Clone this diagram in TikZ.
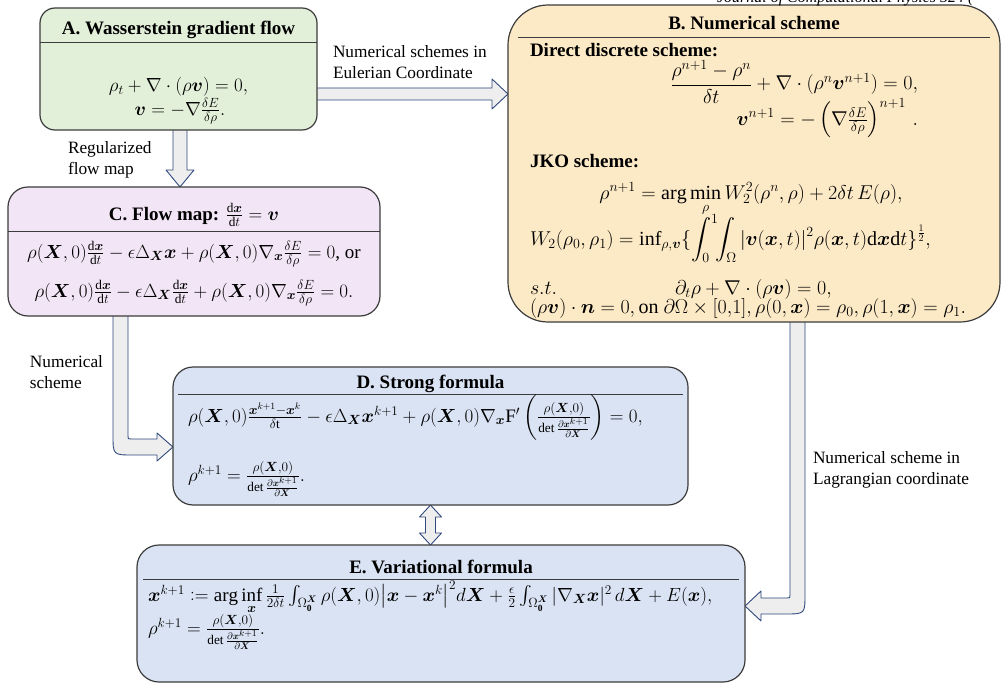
\RequirePackage{fix-cm}
\documentclass[tikz,border=0pt]{standalone}
\usepackage{amsmath,amssymb}
\usepackage{fontspec}
\setmainfont{Liberation Serif}[BoldFont={Liberation Serif Bold},ItalicFont={Liberation Serif Italic}]
\usetikzlibrary{calc,backgrounds}

\definecolor{boxline}{RGB}{60,60,60}
\definecolor{fillA}{RGB}{226,239,217}
\definecolor{fillB}{RGB}{252,233,198}
\definecolor{fillC}{RGB}{242,229,246}
\definecolor{fillDE}{RGB}{218,227,243}
\definecolor{arrfill}{RGB}{238,238,238}
\definecolor{arrline}{RGB}{47,72,125}

\newcommand{\bfX}{\boldsymbol{X}}
\newcommand{\bfx}{\boldsymbol{x}}
\newcommand{\bfv}{\boldsymbol{v}}
\newcommand{\bfn}{\boldsymbol{n}}

\begin{document}
\begin{tikzpicture}[x=1pt,y=-1pt,
  every node/.style={inner sep=0pt,outer sep=0pt},
  box/.style={draw=boxline,line width=1.2pt,rounded corners=#1},
  ttl/.style={anchor=base,font=\fontsize{19}{22}\selectfont\bfseries},
  eq/.style={anchor=base,font=\fontsize{19}{22}\selectfont},
  eqB/.style={anchor=base west,font=\fontsize{20}{23}\selectfont},
  lbl/.style={anchor=north west,align=left,font=\fontsize{17.3}{21.5}\selectfont},
  sep/.style={draw=boxline,line width=0.9pt},
  blk/.style={draw=arrline,fill=arrfill,line width=0.9pt,line join=round}]

\useasboundingbox (0,0) rectangle (1002,685);

% ---- the five boxes ----
\node[box=15pt,fill=fillA,minimum width=277pt,minimum height=122pt] (A) at (178.5,69) {};
\node[box=40pt,fill=fillB,minimum width=492pt,minimum height=317pt] (B) at (754,163.5) {};
\node[box=20pt,fill=fillC,minimum width=372pt,minimum height=129pt] (C) at (194,251.5) {};
\node[box=20pt,fill=fillDE,minimum width=515pt,minimum height=138pt] (D) at (430.5,436) {};
\node[box=22pt,fill=fillDE,minimum width=608pt,minimum height=137pt] (E) at (441,613.5) {};

% ---- A ----
\node[ttl] (Atitle) at (178.5,35) {A. Wasserstein gradient flow};
\draw[sep] (40,42) -- (317,42);
\node[eq] (Aeq1) at (178.5,92) {$\rho_t+\nabla\cdot(\rho\bfv)=0,$};
\node[eq] (Aeq2) at (180,115) {$\bfv=-\nabla\frac{\delta E}{\delta\rho}.$};

% ---- B ----
\node[ttl] (Btitle) at (754,30) {B. Numerical scheme};
\draw[sep] (518,37) -- (990,37);
\node[ttl,anchor=base west] (Bdd) at (530,57) {Direct discrete scheme:};
\node[eqB,anchor=base east] (Beq1) at (918,90) {$\dfrac{\rho^{n+1}-\rho^n}{\delta t}+\nabla\cdot(\rho^n\bfv^{n+1})=0,$};
\node[eqB,anchor=base east] (Beq2) at (918,125) {$\bfv^{n+1}=-\left(\nabla\frac{\delta E}{\delta\rho}\right)^{n+1}\,.$};
\node[ttl,anchor=base west] (Bjko) at (530,167) {JKO scheme:};
\node[eqB,anchor=base] (Beq3) at (751,199) {$\rho^{n+1}=\arg\min\limits_{\rho}W_2^2(\rho^n,\rho)+2\delta t\,E(\rho),$};
\node[eqB] (Beq4) at (530,245) {$\displaystyle W_2(\rho_0,\rho_1)=\inf\nolimits_{\rho,\bfv}\{\int_0^1\!\!\int_\Omega|\bfv(\bfx,t)|^2\rho(\bfx,t)\mathrm{d}\bfx\mathrm{d}t\}^{\frac12},$};
\node[eqB] (Bst) at (530,294) {$s.t.$};
\node[eqB] (Beq5) at (675,294) {$\partial_t\rho+\nabla\cdot(\rho\bfv)=0,$};
\node[eqB] (Beq6) at (530,313) {$(\rho\bfv)\cdot\bfn=0,\text{on }\partial\Omega\times[0{,}1],\rho(0,\bfx)=\rho_0,\rho(1,\bfx)=\rho_1.$};

% ---- C ----
\node[ttl] (Ctitle) at (194,220) {C. Flow map: $\frac{\mathrm{d}\bfx}{\mathrm{d}t}=\bfv$};
\draw[sep] (8,231) -- (380,231);
\node[eq] (Ceq1) at (194,258) {$\rho(\bfX,0)\frac{\mathrm{d}\bfx}{\mathrm{d}t}-\epsilon\Delta_{\bfX}\bfx+\rho(\bfX,0)\nabla_{\bfx}\frac{\delta E}{\delta\rho}=0$, or};
\node[eq] (Ceq2) at (194,297) {$\rho(\bfX,0)\frac{\mathrm{d}\bfx}{\mathrm{d}t}-\epsilon\Delta_{\bfX}\frac{\mathrm{d}\bfx}{\mathrm{d}t}+\rho(\bfX,0)\nabla_{\bfx}\frac{\delta E}{\delta\rho}=0.$};

% ---- D ----
\node[ttl] (Dtitle) at (430.5,388) {D. Strong formula};
\draw[sep] (178,394) -- (683,394);
\node[eq,anchor=base west] (Deq1) at (188,422) {$\rho(\bfX,0)\frac{\bfx^{k+1}-\bfx^k}{\delta\mathrm{t}}-\epsilon\Delta_{\bfX}\bfx^{k+1}+\rho(\bfX,0)\nabla_{\bfx}\mathrm{F}'\left(\frac{\rho(\bfX,0)}{\det\frac{\partial\bfx^{k+1}}{\partial\bfX}}\right)=0,$};
\node[eq,anchor=base west] (Deq2) at (188,481) {$\rho^{k+1}=\frac{\rho(\bfX,0)}{\det\frac{\partial\bfx^{k+1}}{\partial\bfX}}.$};

% ---- E ----
\node[ttl] (Etitle) at (441,573) {E. Variational formula};
\draw[sep] (143,579) -- (739,579);
\node[eq,anchor=base west] (Eeq1) at (148,601) {$\bfx^{k+1}\mathrel{\mathop:}=\arg\inf\limits_{\bfx}\frac{1}{2\delta t}\int_{\Omega_{\mathbf 0}^{\bfX}}\rho(\bfX,0)\bigl|\bfx-\bfx^k\bigr|^2d\bfX+\frac{\epsilon}{2}\int_{\Omega_{\mathbf 0}^{\bfX}}|\nabla_{\bfX}\bfx|^2\,d\bfX+E(\bfx),$};
\node[eq,anchor=base west] (Eeq2) at (148,634) {$\rho^{k+1}=\frac{\rho(\bfX,0)}{\det\frac{\partial\bfx^{k+1}}{\partial\bfX}}.$};

% ---- arrow labels ----
\node[lbl] (labAB) at (333,45) {Numerical schemes in\\Eulerian Coordinate};
\node[lbl] (labAC) at (68,141) {Regularized\\flow map};
\node[lbl] (labCD) at (30,355) {Numerical\\scheme};
\node[lbl] (labBE) at (813,451) {Numerical scheme in\\Lagrangian coordinate};

\node[anchor=base west,font=\fontsize{16}{18}\selectfont\itshape] (jhdr) at (717,3) {Journal of Computational Physics 524 (};

% ---- block arrows ----
\begin{scope}[on background layer]
  \coordinate (abS) at ([yshift=-25pt]A.east);
  \coordinate (abT) at ([yshift=69.5pt]B.west);
  \draw[blk] ($(abS)+(-4,-6)$) -- ($(abT)+(-16,-6)$) -- ($(abT)+(-16,-15)$) -- (abT)
    -- ($(abT)+(-16,15)$) -- ($(abT)+(-16,6)$) -- ($(abS)+(-4,6)$) -- cycle;

  \coordinate (acS) at ([xshift=1.5pt]A.south);
  \coordinate (acT) at ([xshift=-14pt]C.north);
  \draw[blk] ($(acS)+(-7,-4)$) -- ($(acT)+(-7,-17)$) -- ($(acT)+(-14,-17)$) -- (acT)
    -- ($(acT)+(14,-17)$) -- ($(acT)+(7,-17)$) -- ($(acS)+(7,-4)$) -- cycle;

  \coordinate (cdS) at ([xshift=-73.5pt]C.south);
  \coordinate (cdT) at ([yshift=-11pt]D.west);
  \coordinate (cdK) at (cdS |- cdT);
  \draw[blk] ($(cdS)+(-7.5,-4)$) -- ($(cdK)+(-7.5,-12)$) .. controls ($(cdK)+(-7.5,8)$) .. ($(cdK)+(12.5,8)$)
    -- ($(cdT)+(-16,8)$) -- ($(cdT)+(-16,14)$) -- (cdT) -- ($(cdT)+(-16,-14)$) -- ($(cdT)+(-16,-8)$)
    -- ($(cdK)+(10.5,-8)$) .. controls ($(cdK)+(7.5,-8)$) .. ($(cdK)+(7.5,-11)$) -- ($(cdS)+(7.5,-4)$) -- cycle;

  \coordinate (beS) at ([xshift=43.5pt]B.south);
  \coordinate (beT) at ([yshift=7.5pt]E.east);
  \coordinate (beK) at (beS |- beT);
  \draw[blk] ($(beS)+(7.5,-4)$) -- ($(beK)+(7.5,-12)$) .. controls ($(beK)+(7.5,8)$) .. ($(beK)+(-12.5,8)$)
    -- ($(beT)+(16,8)$) -- ($(beT)+(16,15)$) -- (beT) -- ($(beT)+(16,-15)$) -- ($(beT)+(16,-8)$)
    -- ($(beK)+(-10.5,-8)$) .. controls ($(beK)+(-7.5,-8)$) .. ($(beK)+(-7.5,-11)$) -- ($(beS)+(-7.5,-4)$) -- cycle;

  \coordinate (deP) at (D.south);
  \coordinate (deQ) at (E.north -| D.south);
  \draw[blk] (deP) -- ($(deP)+(11,12)$) -- ($(deP)+(5,12)$) -- ($(deQ)+(5,-12)$) -- ($(deQ)+(11,-12)$)
    -- (deQ) -- ($(deQ)+(-11,-12)$) -- ($(deQ)+(-5,-12)$) -- ($(deP)+(-5,12)$) -- ($(deP)+(-11,12)$) -- cycle;
\end{scope}
\end{tikzpicture}
\end{document}
